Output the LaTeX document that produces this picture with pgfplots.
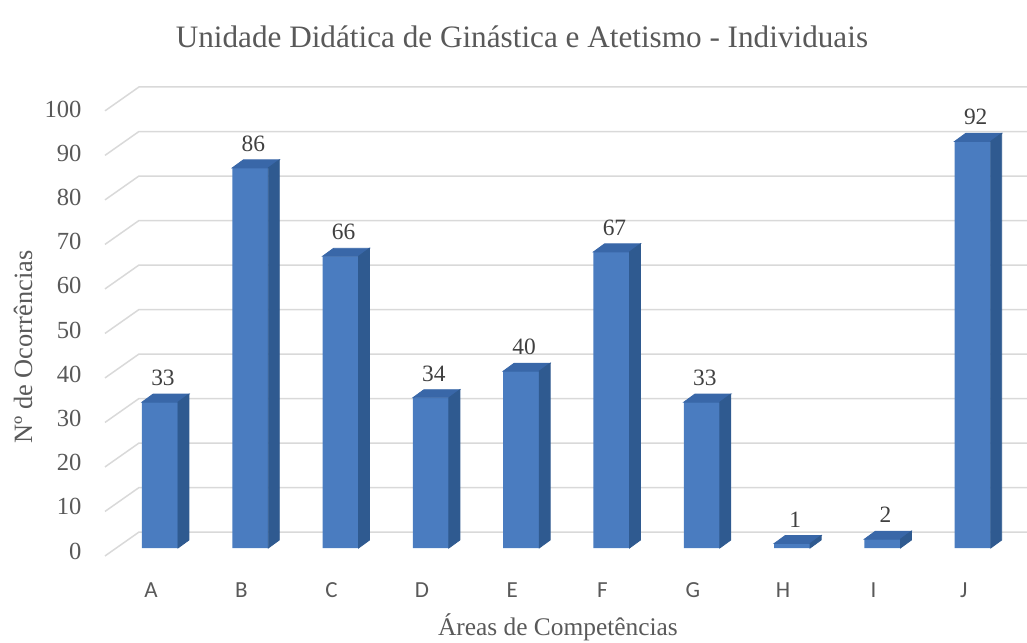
\documentclass[border=0pt]{standalone}
\usepackage{pgfplots}
\pgfplotsset{compat=1.18}
\usepackage{pgfplotstable}
\usepackage{fontspec}
\setmainfont{Liberation Serif}
\newfontfamily\calib{Carlito}
\definecolor{txt}{HTML}{595959}
\definecolor{lbl}{HTML}{404040}
\definecolor{gridc}{HTML}{D9D9D9}
\definecolor{barfront}{HTML}{4A7CC0}
\definecolor{barside}{HTML}{2F5A90}
\definecolor{bartop}{HTML}{3967A8}

\pgfplotstableread{
idx v
0 33
1 86
2 66
3 34
4 40
5 67
6 33
7 1
8 2
9 92
}\datatable

\begin{document}
\begin{tikzpicture}
\useasboundingbox (0,0) rectangle (513.5pt,-321pt);
\begin{axis}[
  at={(52.9pt,-274pt)}, anchor=south west,
  scale only axis,
  x=45.15pt, y=2.21pt,
  xmin=-0.6, xmax=9.55, ymin=0, ymax=106,
  clip=false,
  axis line style={draw=none},
  tick style={draw=none},
  /pgf/number format/assume math mode=true,
  ytick={0,10,...,100},
  xtick={0,...,9},
  xticklabels={A,B,C,D,E,F,G,H,I,J},
  yticklabel style={font=\fontsize{12.3}{14}\selectfont, text=txt, anchor=east, inner sep=0pt, xshift=-12pt, yshift=-1.5pt},
  xticklabel style={font=\calib\fontsize{11.5}{13}\selectfont, text=txt, anchor=north, inner sep=0pt, xshift=-4.5pt, yshift=-17pt},
  title={Unidade Didática de Ginástica e Atetismo - Individuais},
  title style={at={(axis description cs:0.454,1.066)}, anchor=center, font=\fontsize{15.6}{18}\selectfont, text=txt},
  xlabel={Áreas de Competências},
  xlabel style={at={(axis description cs:0.4933,-0.1686)}, anchor=center, font=\fontsize{12.7}{15}\selectfont, text=txt},
  ylabel={Nº de Ocorrências},
  ylabel style={at={(axis description cs:-0.0903,0.429)}, anchor=center, font=\fontsize{13.2}{15}\selectfont, text=txt},
]
% back-wall gridlines with floor diagonal
\pgfplotsinvokeforeach{0,10,...,100}{
  \addplot[gridc, line width=0.75pt, forget plot] coordinates {(-0.609,1.007*#1-1.8) (-0.233,1.007*#1+3.6) (9.6,1.007*#1+3.6)};
}
% side and top faces of the 3D bars
\addplot[only marks, scatter, mark=*, mark size=0pt, color=bartop,
  visualization depends on={y \as \barv},
  scatter/@pre marker code/.code={%
    \pgfmathsetmacro\h{\barv*2.21}%
    \pgfmathsetmacro\hb{4-\h}%
    \pgfmathsetmacro\hc{-\h}%
    \fill[bartop] (-9pt,0pt) -- (9pt,0pt) -- (14.5pt,4pt) -- (-3.5pt,4pt) -- cycle;
    \fill[barside] (9pt,0pt) -- (14.5pt,4pt) -- (14.5pt,\hb pt) -- (9pt,\hc pt) -- cycle;
    \begin{scope}},
  scatter/@post marker code/.code={\end{scope}},
] table[x=idx, y=v] {\datatable};
% front faces with data labels
\addplot[ybar, bar width=18pt, fill=barfront, draw=none,
  nodes near coords,
  nodes near coords style={font=\fontsize{11.7}{14}\selectfont, text=lbl, anchor=south, inner sep=0pt, yshift=8pt, xshift=1.5pt},
] table[x=idx, y=v] {\datatable};
\end{axis}
\end{tikzpicture}
\end{document}
